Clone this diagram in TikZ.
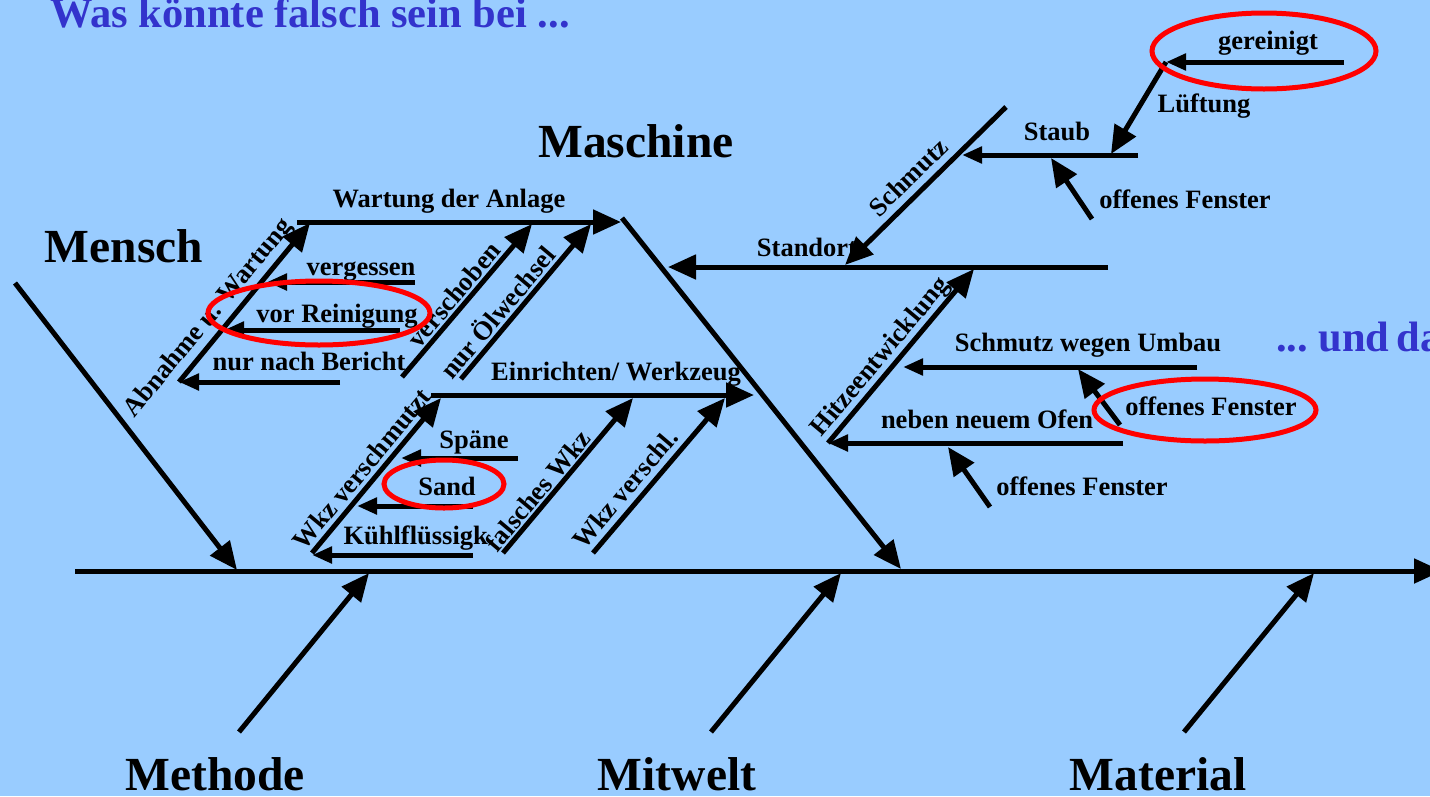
\documentclass[tikz,border=0pt]{standalone}
\usepackage{fontspec}
\setmainfont{Liberation Serif}
\usetikzlibrary{arrows.meta}
\definecolor{bg}{RGB}{153,204,255}
\definecolor{headblue}{RGB}{51,51,204}
\definecolor{ringred}{RGB}{255,0,0}

\begin{document}
\begin{tikzpicture}[x=1pt,y=-1pt,
  bone/.style={line width=5pt,-{Triangle[length=28pt,width=24pt]}},
  twig/.style={line width=5pt,-{Triangle[length=20pt,width=16pt]}},
  lbl/.style={font=\fontsize{26.5}{30}\selectfont\bfseries,inner sep=0pt,anchor=mid},
  cat/.style={font=\fontsize{47.5}{52}\selectfont\bfseries,inner sep=0pt,anchor=base},
  headline/.style={font=\fontsize{42.5}{46}\selectfont\bfseries,text=headblue,inner sep=0pt,anchor=base west},
  ring/.style={draw=ringred,line width=5pt},
]
% background and page frame
\fill[bg] (0,0) rectangle (1430,796);
\useasboundingbox (0,0) rectangle (1430,796);

% ---------- end points of the bones ----------
% spine and main bones
\coordinate (sA) at (75,571);    \coordinate (sB) at (1442,571);
\coordinate (mA) at (15,283);    \coordinate (mB) at (237,570);
\coordinate (kA) at (622,218);   \coordinate (kB) at (901,569);
\coordinate (meA) at (239,732);  \coordinate (meB) at (369,573);
\coordinate (miA) at (711,732);  \coordinate (miB) at (841,573);
\coordinate (maA) at (1184,732); \coordinate (maB) at (1314,573);
% Wartung der Anlage
\coordinate (wA) at (297,222);   \coordinate (wB) at (621,222);
\coordinate (aA) at (179,382);   \coordinate (aB) at (310,223);
\coordinate (vgA) at (415,282);  \coordinate (vgB) at (267,282);
\coordinate (vrA) at (400,330);  \coordinate (vrB) at (224,330);
\coordinate (nbA) at (340,382);  \coordinate (nbB) at (179,382);
\coordinate (vsA) at (402,377);  \coordinate (vsB) at (532,224);
\coordinate (oeA) at (461,379);  \coordinate (oeB) at (591,224);
% Einrichten / Werkzeug
\coordinate (eA) at (431,395);   \coordinate (eB) at (754,395);
\coordinate (wvA) at (312,553);  \coordinate (wvB) at (441,398);
\coordinate (spA) at (518,458);  \coordinate (spB) at (401,458);
\coordinate (sdA) at (473,506);  \coordinate (sdB) at (357,506);
\coordinate (kfA) at (473,555);  \coordinate (kfB) at (312,555);
\coordinate (fwA) at (503,553);  \coordinate (fwB) at (633,398);
\coordinate (wsA) at (593,553);  \coordinate (wsB) at (725,398);
% Standort
\coordinate (stA) at (1108,267); \coordinate (stB) at (668,267);
\coordinate (scA) at (1006,107); \coordinate (scB) at (845,265);
\coordinate (sbA) at (1138,155); \coordinate (sbB) at (962,155);
\coordinate (lfA) at (1166,62);  \coordinate (lfB) at (1111,154);
\coordinate (grA) at (1344,62);  \coordinate (grB) at (1166,62);
\coordinate (ofaA) at (1092,219); \coordinate (ofaB) at (1051,158);
\coordinate (hzA) at (828,443);  \coordinate (hzB) at (974,269);
\coordinate (suA) at (1197,367); \coordinate (suB) at (903,367);
\coordinate (ofbA) at (1120,425); \coordinate (ofbB) at (1078,369);
\coordinate (noA) at (1123,443); \coordinate (noB) at (828,443);
\coordinate (ofcA) at (990,507); \coordinate (ofcB) at (948,447);

% ---------- headings ----------
\node[headline] (title) at (50,27) {Was könnte falsch sein bei ...};
\node[headline] (more) at (1276,351) {\spaceskip=7pt ... und da};
\node[cat] (mensch) at (124,262) {Mensch};
\node[cat] (maschine) at (636,157) {Maschine};
\node[cat] (methode) at (215,790) {Methode};
\node[cat] (mitwelt) at (677,790) {Mitwelt};
\node[cat] (material) at (1158,790) {Material};

% ---------- labels ----------
\node[lbl] (tWartung) at (449,205) {Wartung der Anlage};
\node[lbl,rotate=50.5] (tAbnahme) at (212,321) {Abnahme u. Wartung};
\node[lbl] (tVergessen) at (361,273) {vergessen};
\node[lbl] (tReinigung) at (337,320) {vor Reinigung};
\node[lbl] (tBericht) at (309,368) {nur nach Bericht};
\node[lbl,rotate=49.6] (tVerschoben) at (459,299) {verschoben};
\node[lbl,rotate=50] (tOel) at (503,317) {nur Ölwechsel};

\node[lbl] (tEinrichten) at (616,378) {Einrichten/ Werkzeug};
\node[lbl,rotate=50.2] (tWkzV) at (367,473) {Wkz verschmutzt};
\node[lbl] (tSpaene) at (474,446) {Späne};
\node[lbl] (tSand) at (447,493) {Sand};
\node[lbl] (tKuehl) at (419,542) {Kühlflüssigk.};
\node[lbl,rotate=50] (tFalsch) at (543,495) {falsches Wkz};
\node[lbl,rotate=49.6] (tVerschl) at (630,493) {Wkz verschl.};

\node[lbl] (tStandort) at (807,254) {Standort};
\node[lbl,rotate=44.5] (tSchmutz) at (913,182) {Schmutz};
\node[lbl] (tStaub) at (1057,138) {Staub};
\node[lbl] (tLueftung) at (1204,110) {Lüftung};
\node[lbl] (tGereinigt) at (1268,47) {gereinigt};
\node[lbl] (tOffenA) at (1185,206) {offenes Fenster};
\node[lbl,rotate=50] (tHitze) at (884,360) {Hitzeentwicklung};
\node[lbl] (tUmbau) at (1088,349) {Schmutz wegen Umbau};
\node[lbl] (tOffenB) at (1211,413) {offenes Fenster};
\node[lbl] (tOfen) at (987,426) {neben neuem Ofen};
\node[lbl] (tOffenC) at (1082,493) {offenes Fenster};

% ---------- bones ----------
\draw[bone] (sA) -- (sB);
\draw[bone] (mA) -- (mB);
\draw[bone] (kA) -- (kB);
\draw[bone] (meA) -- (meB);
\draw[bone] (miA) -- (miB);
\draw[bone] (maA) -- (maB);

\draw[bone] (wA) -- (wB);
\draw[bone] (aA) -- (aB);
\draw[twig] (vgA) -- (vgB);
\draw[twig] (vrA) -- (vrB);
\draw[twig] (nbA) -- (nbB);
\draw[bone] (vsA) -- (vsB);
\draw[bone] (oeA) -- (oeB);

\draw[bone] (eA) -- (eB);
\draw[bone] (wvA) -- (wvB);
\draw[twig] (spA) -- (spB);
\draw[twig] (sdA) -- (sdB);
\draw[twig] (kfA) -- (kfB);
\draw[bone] (fwA) -- (fwB);
\draw[bone] (wsA) -- (wsB);

\draw[bone] (stA) -- (stB);
\draw[bone] (scA) -- (scB);
\draw[twig] (sbA) -- (sbB);
\draw[bone] (lfA) -- (lfB);
\draw[twig] (grA) -- (grB);
\draw[bone] (ofaA) -- (ofaB);
\draw[bone] (hzA) -- (hzB);
\draw[twig] (suA) -- (suB);
\draw[bone] (ofbA) -- (ofbB);
\draw[twig] (noA) -- (noB);
\draw[bone] (ofcA) -- (ofcB);

% ---------- red rings ----------
\coordinate (rGer) at (1264,51);
\coordinate (rRein) at (319,313);
\coordinate (rSand) at (444,484);
\coordinate (rOff) at (1205,410);
\draw[ring] (rGer) ellipse [x radius=112pt, y radius=38pt];
\draw[ring] (rRein) ellipse [x radius=111pt, y radius=32pt];
\draw[ring] (rSand) ellipse [x radius=60pt, y radius=24pt];
\draw[ring] (rOff) ellipse [x radius=111pt, y radius=31pt];
\end{tikzpicture}
\end{document}
